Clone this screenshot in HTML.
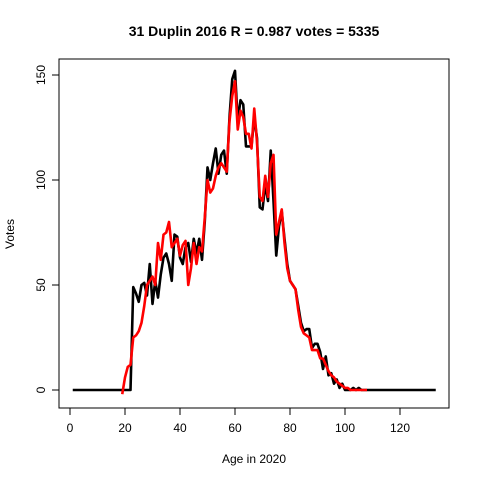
<!DOCTYPE html>
<html><head><meta charset="utf-8"><style>
body{margin:0;background:#fff;}
svg{display:block;font-family:"Liberation Sans",Arial,sans-serif;}
</style></head><body>
<svg id="chart" width="480" height="480">
<rect x="0" y="0" width="480" height="480" fill="#fff"/>
<text x="254" y="36" text-anchor="middle" font-size="14" font-weight="bold">31 Duplin 2016 R = 0.987 votes = 5335</text>
<rect x="59" y="59" width="390" height="349" fill="none" stroke="#000" stroke-width="1"/>
<text x="254" y="463" text-anchor="middle" font-size="12">Age in 2020</text>
<text transform="translate(14,234) rotate(-90)" text-anchor="middle" font-size="12">Votes</text>
<g id="axes"></g>
<g id="series"></g>
</svg>
<script>
const xTicks=[0,20,40,60,80,100,120];
const yTicks=[0,50,100,150];
const blackStartAge=1;
const blackVotes=[0,0,0,0,0,0,0,0,0,0,0,0,0,0,0,0,0,0,0,0,0,0,49,46,42,50,51,45,60,41,52,44,55,63,65,60,52,74,73,63,60,68,70,61,72,65,72,62,80,106,100,108,115,103,112,114,103,130,148,152,128,138,136,116,116,116,130,120,87,86,98,90,114,90,64,78,85,72,60,52,50,48,40,32,28,29,29,20,22,22,18,10,16,7,8,3,5,1,3,0,0,0,1,0,1,0,0,0,0,0,0,0,0,0,0,0,0,0,0,0,0,0,0,0,0,0,0,0,0,0,0,0,0];
const redStartAge=19;
const redVotes=[-2,6,11,12,25,26,28,32,40,50,52,54,50,70,62,74,75,80,68,70,72,64,69,71,50,58,70,60,68,66,82,100,94,96,102,106,108,106,104,128,140,147,124,133,130,122,122,115,134,118,92,90,102,92,108,112,74,80,86,70,58,52,50,48,38,30,27,26,25,19,19,19,15,15,12,9,7,6,4,3,2,1,1,0,0,0,0,0,0,0];
const xs=v=>70+v*2.75;
const ys=v=>390-v*2.1;
const NS="http://www.w3.org/2000/svg";
const axes=document.getElementById('axes');
const series=document.getElementById('series');
function mk(tag,attrs,parent){const e=document.createElementNS(NS,tag);for(const k in attrs)e.setAttribute(k,attrs[k]);parent.appendChild(e);return e;}
let l=mk('line',{x1:xs(xTicks[0]),x2:xs(xTicks[xTicks.length-1]),y1:408,y2:408,stroke:'#000'},axes);


xTicks.forEach(t=>{
  const tk=mk('line',{x1:xs(t),x2:xs(t),y1:408,y2:415,stroke:'#000'},axes);
  
  
  const tx=mk('text',{x:xs(t),y:432,'text-anchor':'middle','font-size':12},axes);
  tx.textContent=t;
  
  
});
l=mk('line',{x1:59,x2:59,y1:ys(yTicks[0]),y2:ys(yTicks[yTicks.length-1]),stroke:'#000'},axes);


yTicks.forEach(t=>{
  const tk=mk('line',{x1:52,x2:59,y1:ys(t),y2:ys(t),stroke:'#000'},axes);
  
  
  const tx=mk('text',{x:0,y:0,'text-anchor':'middle','font-size':12,transform:`translate(45,${ys(t)}) rotate(-90)`},axes);
  tx.textContent=t;
  
  
});
function path(vals,start,color,name){
  const d=vals.map((v,i)=>(i?'L':'M')+xs(start+i).toFixed(2)+','+ys(v).toFixed(2)).join('');
  const p=mk('path',{d:d,fill:'none',stroke:color,'stroke-width':2.6,'stroke-linejoin':'round'},series);
  
  
}
path(blackVotes,blackStartAge,'#000','actual-votes-line');
path(redVotes,redStartAge,'#f00','predicted-votes-line');
</script>
</body></html>
